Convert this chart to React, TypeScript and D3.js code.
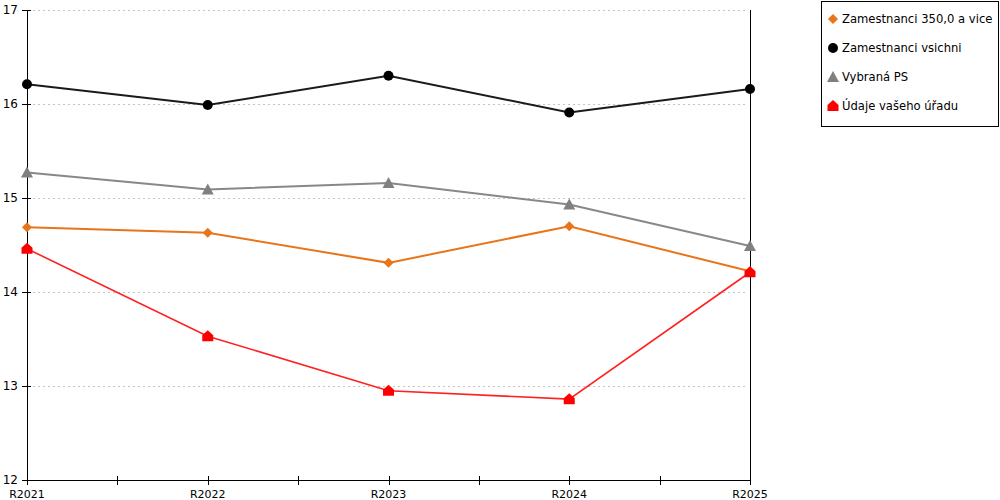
import React from "react";
import * as d3 from "d3";

const categories = ["R2021", "R2022", "R2023", "R2024", "R2025"];
const seriesNames = ["Zamestnanci 350,0 a vice", "Zamestnanci vsichni", "Vybraná PS", "Údaje vašeho úřadu"];
const orangeValues = [14.69, 14.63, 14.31, 14.70, 14.22];
const blackValues = [16.21, 15.99, 16.30, 15.91, 16.16];
const grayValues = [15.27, 15.09, 15.16, 14.93, 14.49];
const redValues = [14.46, 13.53, 12.95, 12.86, 14.21];
const yTicks = [12, 13, 14, 15, 16, 17];

const W = 1000, H = 500;
const left = 27, right = 750, top = 10, bottom = 480;

type Kind = "diamond" | "circle" | "triangle" | "house";

function marker(kind: Kind, x: number, y: number, color: string, key: string) {
  if (kind === "circle") return <circle key={key} cx={x} cy={y} r={5} fill={color} />;
  if (kind === "diamond")
    return <path key={key} d={`M${x},${y - 5}L${x + 5},${y}L${x},${y + 5}L${x - 5},${y}Z`} fill={color} />;
  if (kind === "triangle")
    return <path key={key} d={`M${x},${y - 6}L${x + 6},${y + 5}L${x - 6},${y + 5}Z`} fill={color} />;
  return (
    <path key={key} d={`M${x},${y - 6}L${x + 5.5},${y - 1}L${x + 5.5},${y + 5}L${x - 5.5},${y + 5}L${x - 5.5},${y - 1}Z`} fill={color} />
  );
}

export default function App() {
  const x = d3.scalePoint<string>().domain(categories).range([left, right]);
  const y = d3.scaleLinear().domain([12, 17]).range([bottom, top]);
  const series = [
    { name: seriesNames[0], values: orangeValues, color: "#E8751A", line: "#E8751A", kind: "diamond" as Kind, w: 2 },
    { name: seriesNames[1], values: blackValues, color: "#000000", line: "#1a1a1a", kind: "circle" as Kind, w: 2 },
    { name: seriesNames[2], values: grayValues, color: "#808080", line: "#888888", kind: "triangle" as Kind, w: 2 },
    { name: seriesNames[3], values: redValues, color: "#FF0000", line: "#FF2020", kind: "house" as Kind, w: 1.6 },
  ];
  const lineGen = d3.line<number>().x((_, i) => x(categories[i])!).y((v) => y(v));
  const step = x.step();
  const midTicks = categories.slice(0, -1).map((c) => x(c)! + step / 2);
  const font = "DejaVu Sans, Verdana, sans-serif";
  const drawOrder = [2, 0, 3, 1];
  const c = (v: number) => Math.round(v) + 0.5;

  return (
    <svg width={W} height={H} style={{ position: "absolute", left: 0, top: 0 }} fontFamily={font}>
      <rect width={W} height={H} fill="#fff" />
      {yTicks.filter((t) => t > 12).map((t) => (
        <line key={"g" + t} x1={left + 6} x2={right - 4} y1={c(y(t))} y2={c(y(t))} stroke="#c4c4c4" strokeDasharray="2,3" />
      ))}
      <g shapeRendering="crispEdges">
        <line x1={c(left)} x2={c(left)} y1={top} y2={bottom} stroke="#000" />
        <line x1={c(right)} x2={c(right)} y1={top} y2={bottom} stroke="#000" />
        <line x1={left} x2={right} y1={c(bottom)} y2={c(bottom)} stroke="#000" />
        {yTicks.map((t) => (
          <line key={"yt" + t} x1={left - 5} x2={left + 4} y1={c(y(t))} y2={c(y(t))} stroke="#000" />
        ))}
        {categories.map((cat) => (
          <line key={"xt" + cat} x1={c(x(cat)!)} x2={c(x(cat)!)} y1={bottom - 4} y2={bottom + 5} stroke="#000" />
        ))}
        {midTicks.map((m, i) => (
          <line key={"m" + i} x1={c(m)} x2={c(m)} y1={bottom - 4} y2={bottom + 5} stroke="#000" />
        ))}
      </g>
      {yTicks.map((t) => (
        <text key={"y" + t} x={left - 9} y={y(t)} dy="0.35em" textAnchor="end" fontSize={12} fill="#000">{t}</text>
      ))}
      {categories.map((cat) => (
        <text key={"x" + cat} x={x(cat)} y={498} textAnchor="middle" fontSize={11} fill="#000">{cat}</text>
      ))}
      {drawOrder.map((si) => {
        const s = series[si];
        return (
          <g key={s.name}>
            <path d={lineGen(s.values) || ""} fill="none" stroke={s.line} strokeWidth={s.w} />
            {s.values.map((v, i) => marker(s.kind, x(categories[i])!, y(v), s.color, s.name + i))}
          </g>
        );
      })}
      <rect x={821.5} y={1.5} width={177} height={125} fill="#fff" stroke="#000" shapeRendering="crispEdges" />
      {series.map((s, i) => {
        const ly = 19 + i * 29;
        return (
          <g key={"l" + i}>
            {marker(s.kind, 833, ly, s.color, "lm" + i)}
            <text x={842} y={ly} dy="0.35em" fontSize={11.6} fill="#000">{s.name}</text>
          </g>
        );
      })}
    </svg>
  );
}
